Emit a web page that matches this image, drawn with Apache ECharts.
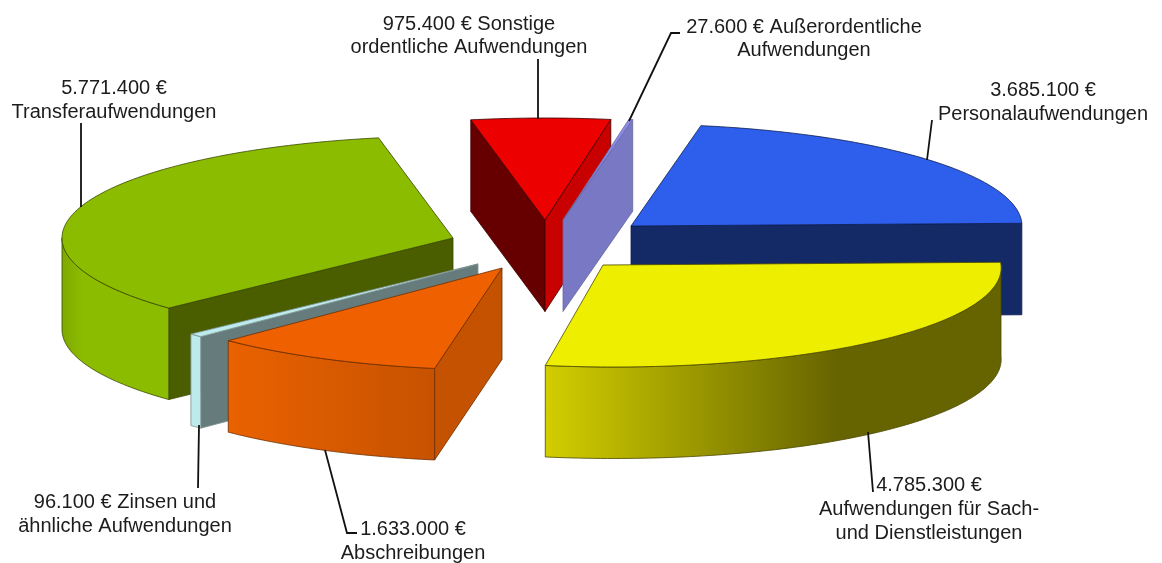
<!DOCTYPE html>
<html>
<head>
<meta charset="utf-8">
<style>html,body{margin:0;padding:0;background:#fff}#c{width:1162px;height:563px;filter:blur(0.4px)}</style>
<script src="https://cdn.jsdelivr.net/npm/echarts@6/dist/echarts.min.js"></script>
</head>
<body>
<div id="c"></div>
<script>
// ---- data (clockwise, in pie order) ----
const categories = ['Personalaufwendungen','Aufwendungen für Sach- und Dienstleistungen','Abschreibungen',
  'Zinsen und ähnliche Aufwendungen','Transferaufwendungen','Sonstige ordentliche Aufwendungen','Außerordentliche Aufwendungen'];
const values = [3685100, 4785300, 1633000, 96100, 5771400, 975400, 27600];

// ---- label texts ----
const labelLines = [
  ['3.685.100 €','Personalaufwendungen'],
  ['4.785.300 €','Aufwendungen für Sach-','und Dienstleistungen'],
  ['1.633.000 €','Abschreibungen'],
  ['96.100 € Zinsen und','ähnliche Aufwendungen'],
  ['5.771.400 €','Transferaufwendungen'],
  ['975.400 € Sonstige','ordentliche Aufwendungen'],
  ['27.600 € Außerordentliche','Aufwendungen']
];

// ---- layout: exploded position of each slice, in axis units ----
const apexes = [[631,226],[603,265],[502,268],[478,264],[453,238],[545,220],[563,220]];
const radii  = [391,398,390,395,391,390,390];
const shears = [0,0.11,0,0,0,0,0];
const paintOrder = [0,5,6,4,3,2,1];
const START = -79.7, RY = 102, DEPTH = 91.5;
const labelAnchors = [[1043,90.5],[929,485.5],[413,529.5],[125,502.5],[114,88.5],[469,24],[804,27]];
const LINE_GAP = 23.8;
const leaders = [
  [[932,120],[927,160]],
  [[868,432],[873,492]],
  [[325,450],[347,533],[357,533]],
  [[199,425],[198,488]],
  [[81,123],[81,207]],
  [[538,59],[538,119]],
  [[629,121],[671,33],[680,33]]
];

// ---- styles ----
const grad = (stops) => new echarts.graphic.LinearGradient(0,0,1,0,stops.map(s=>({offset:s[0],color:s[1]})));
const skins = [
  {top:'#2d5fec', w0:'#142a66', w1:'#142a66', outer:'#142a66', edge:'#0c1c50'},
  {top:'#eeee00', w0:'#666400', w1:'#666400', outer:grad([[0,'#d2ce00'],[0.64,'#666400'],[1,'#666400']]), edge:'#4a4800'},
  {top:'#ee6000', w0:'#c45200', w1:'#c45200', outer:grad([[0,'#ea6200'],[1,'#c65200']]), edge:'#6e2e00'},
  {top:'#bdeaec', w0:'#667c7c', w1:'#667c7c', outer:'#bdeaec', edge:'#7e9090'},
  {top:'#8cbc00', w0:'#4a5e00', w1:'#4a5e00', outer:grad([[0,'#7ea800'],[0.2,'#8cbc00'],[1,'#8cbc00']]), edge:'#384800'},
  {top:'#ec0000', w0:'#660000', w1:'#c80000', outer:'#c80000', edge:'#400000'},
  {top:'#8a8aea', w0:'#7878c4', w1:'#7878c4', outer:'#7878c4', edge:'#6a6a9a'}
];

const total = values.reduce((a,b)=>a+b,0);
const spans = [];
values.reduce((acc,v)=>{ const next = acc + v/total*360; spans.push([acc,next]); return next; }, START);
const rad = d => d*Math.PI/180;

function renderSlice(params, api){
  const i = api.value(0), s = skins[i], [t0,t1] = spans[i];
  const [ax,ay] = apexes[i], rx = radii[i], sh = shears[i];
  const rim = (t,dz) => {
    const dy = RY*Math.sin(rad(t));
    return api.coord([ax + rx*Math.cos(rad(t)) + sh*dy, ay + dy + dz]);
  };
  const hub = dz => api.coord([ax, ay + dz]);
  const arc = (a,b,dz) => {
    const pts=[], n=Math.max(2,Math.ceil(Math.abs(b-a)));
    for(let k=0;k<=n;k++) pts.push(rim(a+(b-a)*k/n,dz));
    return pts;
  };
  const base = (paintOrder.indexOf(i)+1)*10;
  const kids = [];
  const poly = (points,fill,z) => kids.push({type:'polygon',silent:true,z2:base+z,
    shape:{points},style:{fill,stroke:s.edge,lineWidth:0.8,lineJoin:'round'}});
  if (Math.cos(rad(t0)) < 0) poly([hub(0),rim(t0,0),rim(t0,DEPTH),hub(DEPTH)], s.w0, 1);
  if (Math.cos(rad(t1)) > 0) poly([hub(0),rim(t1,0),rim(t1,DEPTH),hub(DEPTH)], s.w1, 1);
  const a = Math.max(t0,0), b = Math.min(t1,180);
  if (b > a) poly(arc(a,b,0).concat(arc(b,a,DEPTH)), s.outer, 2);
  poly([hub(0)].concat(arc(t0,t1,0)), s.top, 3);
  return {type:'group',children:kids};
}

function renderLabel(params, api){
  const i = api.value(0), kids = [];
  kids.push({type:'polyline',silent:true,shape:{points:leaders[i].map(p=>api.coord(p))},
    style:{stroke:'#111',lineWidth:1.8,fill:null}});
  labelLines[i].forEach((line,k)=>{
    const p = api.coord([labelAnchors[i][0], labelAnchors[i][1]+k*LINE_GAP]);
    kids.push({type:'text',silent:true,style:{text:line,x:p[0],y:p[1],align:'center',verticalAlign:'middle',
      font:'20px "Liberation Sans", Arial, sans-serif',fill:'#1c1c1c'}});
  });
  return {type:'group',children:kids};
}

const rows = values.map((v,i)=>({name:categories[i],value:[i,v]}));
const chart = echarts.init(document.getElementById('c'),null,{renderer:'canvas'});
chart.setOption({
  animation:false,
  backgroundColor:'#fff',
  grid:{left:0,right:0,top:0,bottom:0},
  xAxis:{type:'value',min:0,max:1162,show:false},
  yAxis:{type:'value',min:0,max:563,inverse:true,show:false},
  tooltip:{show:false},
  series:[
    {type:'custom',coordinateSystem:'cartesian2d',clip:false,data:rows,encode:{x:0,y:1},renderItem:renderSlice,z:2},
    {type:'custom',coordinateSystem:'cartesian2d',clip:false,data:rows,encode:{x:0,y:1},renderItem:renderLabel,z:3}
  ]
});
</script>
</body>
</html>
